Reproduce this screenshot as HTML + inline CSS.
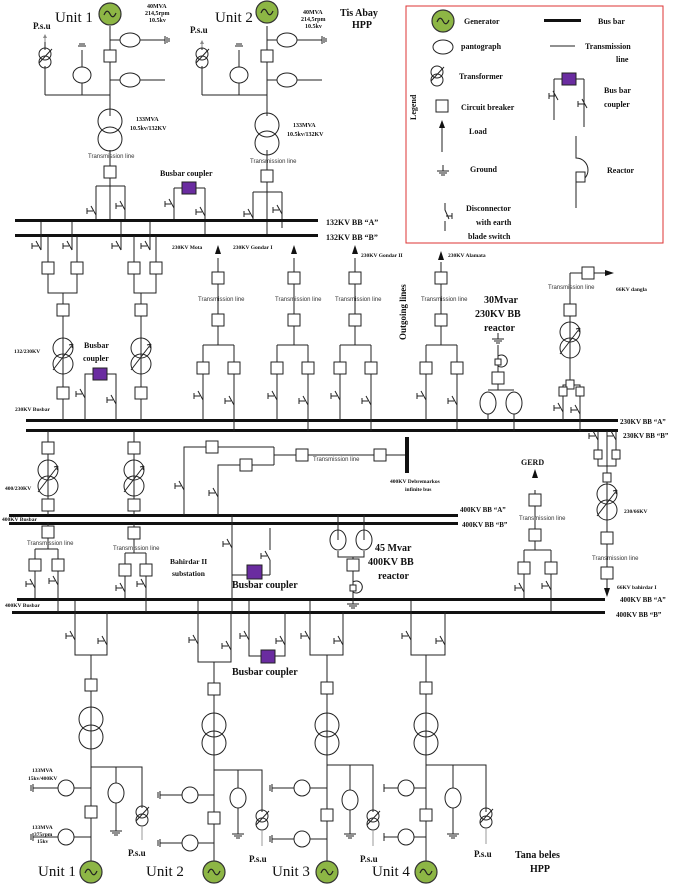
<!DOCTYPE html>
<html><head><meta charset="utf-8"><style>
html,body{margin:0;padding:0;background:#fff}
svg{display:block}
text{font-family:"Liberation Serif",serif;font-weight:bold;fill:#111}
.s{font-family:"Liberation Sans",sans-serif;font-weight:normal;font-size:6px;fill:#333}
.u{font-family:"Liberation Serif",serif;font-weight:normal;font-size:15px}
</style></head><body>
<svg width="685" height="884" viewBox="0 0 685 884" xmlns="http://www.w3.org/2000/svg">
<defs>
<g id="ds" fill="none" stroke="#222" stroke-width="1"><path d="M0,0 L-5,-9 M-3,-4 h-6 M-9,-7 v6"/></g>
<g id="gen"><circle r="11" fill="#8db645" stroke="#333" stroke-width="1.2"/><path d="M-6,1 q3,-7 6,-1 t6,-1" fill="none" stroke="#222" stroke-width="1.2"/></g>
<g id="tr" fill="none" stroke="#222" stroke-width="1"><circle cy="-9" r="12"/><circle cy="9" r="12"/></g>
<g id="trv" fill="none" stroke="#222" stroke-width="1"><circle cy="-8" r="10"/><circle cy="8" r="10"/><path d="M-10,14 L10,-12 M10,-12 l-4,1 M10,-12 l-1,4"/></g>
<g id="str" fill="none" stroke="#222" stroke-width="1"><circle cy="-4" r="6"/><circle cy="4" r="6"/><path d="M-6,5 L7,-9"/></g>
<g id="gnd" stroke="#222" stroke-width="1"><path d="M0,0 v6 M-6,6 h12 M-4,8 h8 M-2,10 h4"/></g>
<g id="cb"><rect x="-6" y="-6" width="12" height="12" fill="#fff" stroke="#222"/></g>
<g id="rx" fill="none" stroke="#222"><path d="M0,-8 v6 a6,6 0 1 1 0,10"/><rect x="-3" y="1" width="6" height="6" fill="#fff"/></g>
</defs>
<g stroke="#222" stroke-width="1" fill="none">
<path d="M110,26 V116 M110,40 H120 M140,40 H165 M110,80 H120 M140,80 H165 M45,95 H110 M82,95 V83 M82,67 V50 M45,95 V66 M45,50 V42"/>
<path d="M267,26 V116 M267,40 H277 M297,40 H322 M267,80 H277 M297,80 H322 M202,95 H267 M239,95 V83 M239,67 V50 M202,95 V66 M202,50 V42"/>
<ellipse cx="130" cy="40" rx="10" ry="7"/><ellipse cx="130" cy="80" rx="10" ry="7"/><ellipse cx="82" cy="75" rx="9" ry="8"/>
<ellipse cx="287" cy="40" rx="10" ry="7"/><ellipse cx="287" cy="80" rx="10" ry="7"/><ellipse cx="239" cy="75" rx="9" ry="8"/>
<path d="M165,36 v8 M167,37 v6 M169,38 v4 M322,36 v8 M324,37 v6 M326,38 v4 M78,46 h8 M79,44 h6 M235,46 h8 M236,44 h6"/>
<path d="M110,150 V220 M96,186 H125 M96,186 V220 M125,186 V220"/>
<path d="M267,150 V236 M253,192 H282 M253,192 V220 M282,192 V228"/>
<path d="M174,188 H205 M174,188 V220 M205,188 V236"/>
</g>
<path d="M45,34 l-2,4 h4 z M202,40 l-2,4 h4z" fill="#888"/>
<path d="M45,38 v4 M202,44 v4" stroke="#888"/>
<use href="#gen" x="110" y="14"/><use href="#gen" x="267" y="12"/>
<use href="#cb" x="110" y="56"/><use href="#cb" x="267" y="56"/>
<use href="#str" x="45" y="58"/><use href="#str" x="202" y="58"/>
<use href="#tr" x="110" y="130"/><use href="#tr" x="267" y="134"/>
<use href="#cb" x="110" y="172"/><use href="#cb" x="267" y="176"/>
<use href="#ds" x="96" y="215"/><use href="#ds" x="125" y="210"/><use href="#ds" x="253" y="218"/><use href="#ds" x="282" y="214"/>
<use href="#ds" x="174" y="208"/><use href="#ds" x="205" y="216"/>
<rect x="182" y="182" width="14" height="12" fill="#6a2ca0" stroke="#222"/>
<text x="55" y="22" class="u" font-size="14">Unit 1</text><text x="215" y="22" class="u" font-size="14">Unit 2</text>
<text x="33" y="29" font-size="9" font-weight="normal">P.s.u</text><text x="190" y="33" font-size="9" font-weight="normal">P.s.u</text>
<text x="147" y="8" font-size="6">40MVA</text><text x="145" y="15" font-size="6">214,5rpm</text><text x="149" y="22" font-size="6">10.5kv</text>
<text x="303" y="14" font-size="6">40MVA</text><text x="301" y="21" font-size="6">214,5rpm</text><text x="305" y="28" font-size="6">10.5kv</text>
<text x="340" y="16" font-size="10">Tis Abay</text><text x="352" y="28" font-size="10">HPP</text>
<text x="136" y="121" font-size="6">133MVA</text><text x="130" y="130" font-size="6">10.5kv/132KV</text>
<text x="293" y="127" font-size="6">133MVA</text><text x="287" y="136" font-size="6">10.5kv/132KV</text>
<text x="88" y="158" class="s">Transmission line</text><text x="250" y="163" class="s">Transmission line</text>
<text x="160" y="176" font-size="8">Busbar coupler</text>
<g fill="#111">
<rect x="15" y="219" width="303" height="3"/><rect x="15" y="234" width="303" height="3"/>
<rect x="26" y="419" width="592" height="3"/><rect x="26" y="429" width="592" height="3"/>
<rect x="9" y="514" width="449" height="3"/><rect x="9" y="522" width="449" height="3"/>
<rect x="17" y="598" width="588" height="3"/><rect x="12" y="611" width="593" height="3"/>
<rect x="405" y="437" width="4" height="36"/>
</g>
<text x="326" y="225" font-size="8">132KV BB “A”</text><text x="326" y="240" font-size="8">132KV BB “B”</text>
<text x="620" y="424" font-size="7">230KV BB “A”</text><text x="623" y="438" font-size="7">230KV BB “B”</text>
<text x="460" y="512" font-size="7">400KV BB “A”</text><text x="462" y="527" font-size="7">400KV BB “B”</text>
<text x="620" y="602" font-size="7">400KV BB “A”</text><text x="616" y="617" font-size="7">400KV BB “B”</text>
<rect x="406" y="6" width="257" height="237" fill="none" stroke="#d33" stroke-width="1"/>
<use href="#gen" x="443" y="21"/><text x="464" y="24" font-size="8">Generator</text>
<rect x="544" y="19" width="37" height="3" fill="#111"/><text x="598" y="24" font-size="8">Bus bar</text>
<ellipse cx="443" cy="47" rx="10" ry="7" fill="none" stroke="#222"/><text x="461" y="49" font-size="8">pantograph</text>
<path d="M550,46 H575" stroke="#222"/><text x="585" y="49" font-size="8">Transmission</text><text x="616" y="62" font-size="8">line</text>
<use href="#str" x="437" y="76"/><text x="459" y="79" font-size="8">Transformer</text>
<rect x="436" y="100" width="12" height="12" fill="#fff" stroke="#222"/><text x="461" y="110" font-size="8">Circuit breaker</text>
<text x="404" y="108" font-size="8" transform="rotate(-90 416 108)">Legend</text>
<path d="M442,152 V128" stroke="#222"/><path d="M442,120 l-3,8 h6z" fill="#111"/><text x="469" y="134" font-size="8">Load</text>
<use href="#gnd" x="443" y="165"/><text x="470" y="172" font-size="8">Ground</text>
<path d="M445,203 v7 l4,9 M446,216 h6 M452,213 v6 M445,221 v10" stroke="#222" fill="none"/>
<text x="466" y="211" font-size="8">Disconnector</text><text x="476" y="225" font-size="8">with earth</text><text x="468" y="239" font-size="8">blade switch</text>
<path d="M554,79 V120 M554,79 H562 M576,79 H584 M584,79 V127" stroke="#222" fill="none"/>
<rect x="562" y="73" width="14" height="12" fill="#6a2ca0" stroke="#222"/>
<use href="#ds" x="558" y="100"/><use href="#ds" x="587" y="108"/>
<text x="604" y="93" font-size="8">Bus bar</text><text x="604" y="107" font-size="8">coupler</text>
<path d="M576,136 V158 a9,9 0 0 1 0,24 V208" stroke="#222" fill="none"/><rect x="576" y="172" width="9" height="10" fill="#fff" stroke="#222"/>
<text x="607" y="173" font-size="8">Reactor</text>
<g stroke="#222" fill="none">
<path d="M48,236 V268 M77,236 V268 M48,268 V293 H77 V268 M63,293 V420 M41,222 V250 M72,222 V250"/>
<path d="M134,236 V268 M156,236 V268 M134,268 V293 H156 V268 M141,293 V420 M121,222 V250 M150,222 V250"/>
<path d="M85,420 V374 H116 V420"/>
<path d="M218,258 V345 M203,345 H234 M203,345 V420 M234,345 V431"/>
<path d="M294,258 V345 M277,345 H308 M277,345 V420 M308,345 V431"/>
<path d="M355,258 V345 M340,345 H371 M340,345 V420 M371,345 V431"/>
<path d="M441,262 V345 M426,345 H457 M426,345 V420 M457,345 V431"/>
<path d="M498,345 V390 H488 M498,390 H514 M488,414 V420 M514,414 V431"/>
<path d="M570,273 H605 M570,273 V385 M563,392 V385 H580 V392 M563,392 V420 M580,392 V431"/>
</g>
<g>
<use href="#ds" x="41" y="250"/><use href="#ds" x="72" y="250"/><use href="#ds" x="121" y="250"/><use href="#ds" x="150" y="250"/>
<use href="#cb" x="48" y="268"/><use href="#cb" x="77" y="268"/><use href="#cb" x="134" y="268"/><use href="#cb" x="156" y="268"/>
<use href="#cb" x="63" y="310"/><use href="#cb" x="141" y="310"/>
<use href="#trv" x="63" y="356"/><use href="#trv" x="141" y="356"/>
<use href="#cb" x="63" y="393"/><use href="#cb" x="141" y="393"/>
<use href="#ds" x="85" y="398"/><use href="#ds" x="116" y="404"/>
<rect x="93" y="368" width="14" height="12" fill="#6a2ca0" stroke="#222"/>
<use href="#cb" x="218" y="278"/><use href="#cb" x="218" y="320"/><use href="#cb" x="203" y="368"/><use href="#cb" x="234" y="368"/>
<use href="#cb" x="294" y="278"/><use href="#cb" x="294" y="320"/><use href="#cb" x="277" y="368"/><use href="#cb" x="308" y="368"/>
<use href="#cb" x="355" y="278"/><use href="#cb" x="355" y="320"/><use href="#cb" x="340" y="368"/><use href="#cb" x="371" y="368"/>
<use href="#cb" x="441" y="278"/><use href="#cb" x="441" y="320"/><use href="#cb" x="426" y="368"/><use href="#cb" x="457" y="368"/>
<use href="#ds" x="203" y="400"/><use href="#ds" x="234" y="405"/><use href="#ds" x="277" y="400"/><use href="#ds" x="308" y="405"/>
<use href="#ds" x="340" y="400"/><use href="#ds" x="371" y="405"/><use href="#ds" x="426" y="400"/><use href="#ds" x="457" y="405"/>
<use href="#cb" x="588" y="273"/><use href="#cb" x="570" y="310"/><use href="#trv" x="570" y="340"/>
<rect x="566" y="380" width="8" height="9" fill="#fff" stroke="#222"/>
<rect x="559" y="387" width="8" height="9" fill="#fff" stroke="#222"/><rect x="576" y="387" width="8" height="9" fill="#fff" stroke="#222"/>
<use href="#ds" x="563" y="412"/><use href="#ds" x="580" y="414"/>
<use href="#gnd" x="498" y="333"/><use href="#rx" x="498" y="358"/><use href="#cb" x="498" y="378"/>
<ellipse cx="488" cy="403" rx="8" ry="11" fill="none" stroke="#222"/><ellipse cx="514" cy="403" rx="8" ry="11" fill="none" stroke="#222"/>
</g>
<g fill="#111"><path d="M218,245 l-3,9 h6z M294,245 l-3,9 h6z M355,245 l-3,9 h6z M441,251 l-3,9 h6z M614,273 l-9,-3 v6z"/></g>
<text x="172" y="249" font-size="5.5">230KV  Mota</text><text x="233" y="249" font-size="5.5">230KV  Gondar I</text>
<text x="361" y="257" font-size="5.5">230KV  Gondar II</text><text x="448" y="257" font-size="5.5">230KV  Alamata</text>
<text x="198" y="301" class="s">Transmission line</text><text x="275" y="301" class="s">Transmission line</text><text x="335" y="301" class="s">Transmission line</text><text x="421" y="301" class="s">Transmission line</text>
<text x="548" y="289" class="s">Transmission line</text><text x="616" y="291" font-size="5.5">66KV  dangla</text>
<text x="406" y="340" font-size="9" transform="rotate(-90 406 340)">Outgoing lines</text>
<text x="484" y="303" font-size="10">30Mvar</text><text x="475" y="317" font-size="10">230KV BB</text><text x="484" y="331" font-size="10">reactor</text>
<text x="84" y="348" font-size="8">Busbar</text><text x="83" y="361" font-size="8">coupler</text>
<text x="14" y="353" font-size="5.5">132/230KV</text><text x="15" y="411" font-size="5.5">230KV  Busbar</text>
<g stroke="#222" fill="none">
<path d="M48,431 V515 M134,431 V515"/>
<path d="M184,515 V447 H274 M218,515 V465 H274 M274,447 V465 M274,455 H405"/>
<path d="M48,523 V549 M35,549 H58 M35,549 V598 M58,549 V612 M134,523 V553 M125,553 H146 M125,553 V598 M146,553 V612"/>
<path d="M232,515 V612 M232,575 H270 M270,575 V560 M270,528 V550"/>
<path d="M338,515 V540 M364,515 V540 M338,551 V557 H364 V551 M353,557 V598"/>
<path d="M535,490 V550 M524,550 H551 M524,550 V598 M551,550 V612"/>
<path d="M607,431 V589 M598,431 V455 M616,431 V455 M598,455 V466 H616 V455"/>
</g>
<use href="#cb" x="48" y="448"/><use href="#cb" x="134" y="448"/><use href="#trv" x="48" y="478"/><use href="#trv" x="134" y="478"/>
<use href="#cb" x="48" y="505"/><use href="#cb" x="134" y="505"/>
<use href="#cb" x="212" y="447"/><use href="#cb" x="246" y="465"/><use href="#cb" x="302" y="455"/><use href="#cb" x="380" y="455"/>
<use href="#ds" x="184" y="490"/><use href="#ds" x="218" y="497"/>
<use href="#cb" x="48" y="532"/><use href="#cb" x="35" y="565"/><use href="#cb" x="58" y="565"/>
<use href="#cb" x="134" y="533"/><use href="#cb" x="125" y="570"/><use href="#cb" x="146" y="570"/>
<use href="#ds" x="35" y="588"/><use href="#ds" x="58" y="585"/><use href="#ds" x="125" y="592"/><use href="#ds" x="146" y="588"/>
<use href="#ds" x="232" y="548"/><use href="#ds" x="270" y="560"/>
<rect x="247" y="565" width="15" height="14" fill="#6a2ca0" stroke="#222"/>
<ellipse cx="338" cy="540" rx="8" ry="10" fill="none" stroke="#222"/><ellipse cx="364" cy="540" rx="8" ry="10" fill="none" stroke="#222"/>
<use href="#cb" x="353" y="565"/><use href="#rx" x="353" y="584"/><use href="#gnd" x="353" y="598"/>
<use href="#cb" x="535" y="500"/><use href="#cb" x="535" y="535"/><use href="#cb" x="524" y="568"/><use href="#cb" x="551" y="568"/>
<use href="#ds" x="524" y="592"/><use href="#ds" x="551" y="590"/>
<use href="#ds" x="598" y="440"/><use href="#ds" x="616" y="440"/>
<rect x="594" y="450" width="8" height="9" fill="#fff" stroke="#222"/><rect x="612" y="450" width="8" height="9" fill="#fff" stroke="#222"/>
<rect x="603" y="473" width="8" height="9" fill="#fff" stroke="#222"/>
<use href="#trv" x="607" y="502"/><use href="#cb" x="607" y="538"/><use href="#cb" x="607" y="573"/>
<path d="M535,469 l-3,9 h6z M607,597 l-3,-9 h6z" fill="#111"/>
<text x="5" y="490" font-size="5.5">400/230KV</text><text x="2" y="521" font-size="5.5">400KV  Busbar</text>
<text x="313" y="461" class="s">Transmission line</text>
<text x="390" y="483" font-size="5.5">400KV  Debremarkos</text><text x="405" y="491" font-size="5.5">infinite bus</text>
<text x="521" y="465" font-size="8">GERD</text><text x="519" y="520" class="s">Transmission line</text>
<text x="624" y="513" font-size="5.5">230/66KV</text><text x="592" y="560" class="s">Transmission line</text><text x="617" y="589" font-size="5.5">66KV  bahirdar I</text>
<text x="27" y="545" class="s">Transmission line</text><text x="113" y="550" class="s">Transmission line</text>
<text x="170" y="564" font-size="7.5">Bahirdar II</text><text x="172" y="576" font-size="7.5">substation</text>
<text x="232" y="588" font-size="10">Busbar coupler</text>
<text x="375" y="551" font-size="10">45 Mvar</text><text x="368" y="565" font-size="10">400KV BB</text><text x="378" y="579" font-size="10">reactor</text>
<text x="5" y="607" font-size="5.5">400KV  Busbar</text>
<g stroke="#222" fill="none">
<path d="M75,601 V655 H107 V612 M91,655 V861"/>
<path d="M198,601 V662 H231 V612 M214,662 V861"/>
<path d="M249,601 V656 H285 V612"/>
<path d="M310,601 V655 H343 V612 M327,655 V861"/>
<path d="M411,601 V655 H445 V612 M426,655 V861"/>
<path d="M91,767 H142 V808 M116,767 V783 M116,803 V825 M33,788 H60 M72,788 H91 M33,837 H60 M72,837 H91"/>
<path d="M214,770 H262 V812 M238,770 V788 M238,808 V828 M160,795 H184 M196,795 H214 M160,843 H184 M196,843 H214"/>
<path d="M327,765 H373 V812 M350,765 V790 M350,810 V828 M272,788 H296 M308,788 H327 M272,839 H296 M308,839 H327"/>
<path d="M426,765 H486 V812 M453,765 V788 M453,808 V828 M384,788 H400 M412,788 H426 M384,837 H400 M412,837 H426"/>
<path d="M33,784 v8 M31,785 v6 M33,833 v8 M31,834 v6 M160,791 v8 M158,792 v6 M160,839 v8 M158,840 v6 M272,784 v8 M270,785 v6 M272,835 v8 M270,836 v6 M384,784 v8 M384,833 v8"/>
</g>
<use href="#ds" x="75" y="640"/><use href="#ds" x="107" y="645"/><use href="#ds" x="198" y="644"/><use href="#ds" x="231" y="650"/>
<use href="#ds" x="249" y="640"/><use href="#ds" x="285" y="645"/><use href="#ds" x="310" y="640"/><use href="#ds" x="343" y="645"/>
<use href="#ds" x="411" y="640"/><use href="#ds" x="445" y="645"/>
<rect x="261" y="650" width="14" height="13" fill="#6a2ca0" stroke="#222"/>
<text x="232" y="675" font-size="10">Busbar coupler</text>
<use href="#cb" x="91" y="685"/><use href="#cb" x="214" y="689"/><use href="#cb" x="327" y="688"/><use href="#cb" x="426" y="688"/>
<use href="#tr" x="91" y="728"/><use href="#tr" x="214" y="734"/><use href="#tr" x="327" y="734"/><use href="#tr" x="426" y="734"/>
<g fill="#fff" stroke="#222">
<ellipse cx="66" cy="788" rx="8" ry="8"/><ellipse cx="66" cy="837" rx="8" ry="8"/><ellipse cx="116" cy="793" rx="8" ry="10"/>
<ellipse cx="190" cy="795" rx="8" ry="8"/><ellipse cx="190" cy="843" rx="8" ry="8"/><ellipse cx="238" cy="798" rx="8" ry="10"/>
<ellipse cx="302" cy="788" rx="8" ry="8"/><ellipse cx="302" cy="839" rx="8" ry="8"/><ellipse cx="350" cy="800" rx="8" ry="10"/>
<ellipse cx="406" cy="788" rx="8" ry="8"/><ellipse cx="406" cy="837" rx="8" ry="8"/><ellipse cx="453" cy="798" rx="8" ry="10"/>
</g>
<use href="#cb" x="91" y="812"/><use href="#cb" x="214" y="818"/><use href="#cb" x="327" y="815"/><use href="#cb" x="426" y="815"/>
<use href="#gnd" x="116" y="825"/><use href="#gnd" x="238" y="828"/><use href="#gnd" x="350" y="828"/><use href="#gnd" x="453" y="828"/>
<use href="#str" x="142" y="816"/><use href="#str" x="262" y="820"/><use href="#str" x="373" y="820"/><use href="#str" x="486" y="818"/>
<g stroke="#999"><path d="M142,826 V840 M262,830 V846 M373,830 V846 M486,828 V844"/></g>
<use href="#gen" x="91" y="872"/><use href="#gen" x="214" y="872"/><use href="#gen" x="327" y="872"/><use href="#gen" x="426" y="872"/>
<text x="32" y="772" font-size="5.5">133MVA</text><text x="28" y="780" font-size="5.5">15kv/400KV</text>
<text x="32" y="829" font-size="5.5">133MVA</text><text x="34" y="836" font-size="5.5">375rpm</text><text x="37" y="843" font-size="5.5">15kv</text>
<text x="128" y="856" font-size="9" font-weight="normal">P.s.u</text><text x="249" y="862" font-size="9" font-weight="normal">P.s.u</text>
<text x="360" y="862" font-size="9" font-weight="normal">P.s.u</text><text x="474" y="857" font-size="9" font-weight="normal">P.s.u</text>
<text x="38" y="876" class="u" font-size="14">Unit 1</text><text x="146" y="876" class="u" font-size="14">Unit 2</text>
<text x="272" y="876" class="u" font-size="14">Unit 3</text><text x="372" y="876" class="u" font-size="14">Unit 4</text>
<text x="515" y="858" font-size="10">Tana beles</text><text x="530" y="872" font-size="10">HPP</text>
</svg>
</body></html>
